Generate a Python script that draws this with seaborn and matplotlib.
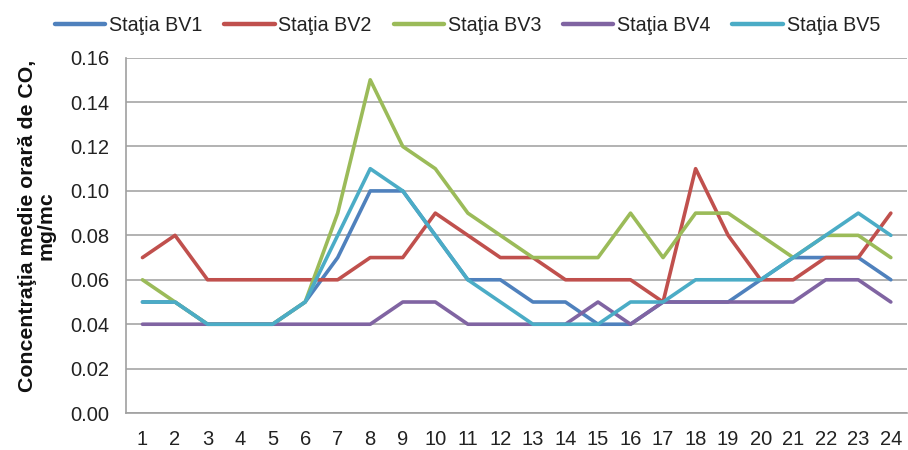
import pandas as pd
import matplotlib
matplotlib.use("Agg")
import matplotlib.pyplot as plt
import seaborn as sns
from matplotlib.ticker import FixedLocator, FormatStrFormatter

# hours of the day
hours = list(range(1, 25))

bv1 = [0.05, 0.05, 0.04, 0.04, 0.04, 0.05, 0.07, 0.10, 0.10, 0.08, 0.06, 0.06,
       0.05, 0.05, 0.04, 0.04, 0.05, 0.05, 0.05, 0.06, 0.07, 0.07, 0.07, 0.06]
bv2 = [0.07, 0.08, 0.06, 0.06, 0.06, 0.06, 0.06, 0.07, 0.07, 0.09, 0.08, 0.07,
       0.07, 0.06, 0.06, 0.06, 0.05, 0.11, 0.08, 0.06, 0.06, 0.07, 0.07, 0.09]
bv3 = [0.06, 0.05, 0.04, 0.04, 0.04, 0.05, 0.09, 0.15, 0.12, 0.11, 0.09, 0.08,
       0.07, 0.07, 0.07, 0.09, 0.07, 0.09, 0.09, 0.08, 0.07, 0.08, 0.08, 0.07]
bv4 = [0.04, 0.04, 0.04, 0.04, 0.04, 0.04, 0.04, 0.04, 0.05, 0.05, 0.04, 0.04,
       0.04, 0.04, 0.05, 0.04, 0.05, 0.05, 0.05, 0.05, 0.05, 0.06, 0.06, 0.05]
bv5 = [0.05, 0.05, 0.04, 0.04, 0.04, 0.05, 0.08, 0.11, 0.10, 0.08, 0.06, 0.05,
       0.04, 0.04, 0.04, 0.05, 0.05, 0.06, 0.06, 0.06, 0.07, 0.08, 0.09, 0.08]

station_names = ["Staţia BV1", "Staţia BV2", "Staţia BV3", "Staţia BV4", "Staţia BV5"]
station_colors = ["#4F81BD", "#C0504D", "#9BBB59", "#8064A2", "#4BACC6"]

# long-form table for seaborn
frames = []
for name, vals in zip(station_names, [bv1, bv2, bv3, bv4, bv5]):
    frames.append(pd.DataFrame({"ora": hours, "conc": vals, "statia": name}))
df = pd.concat(frames, ignore_index=True)

sns.set_style("white")
plt.rcParams['font.family'] = ['Liberation Sans', 'DejaVu Sans']

fig, ax = plt.subplots(figsize=(9.08, 4.5), dpi=100)
fig.subplots_adjust(left=0.139, right=0.999, top=0.872, bottom=0.082)

sns.lineplot(data=df, x="ora", y="conc", hue="statia", hue_order=station_names,
             palette=dict(zip(station_names, station_colors)), linewidth=2.6,
             ax=ax, legend=True)

ax.set_xlim(0.5, 24.5)
ax.set_ylim(0, 0.16)
ax.set_yticks([0.00, 0.02, 0.04, 0.06, 0.08, 0.10, 0.12, 0.14, 0.16])
ax.yaxis.set_major_formatter(FormatStrFormatter('%.2f'))
ax.set_xticks(hours)
ax.set_xticklabels([str(h) for h in hours])
ax.xaxis.set_minor_locator(FixedLocator([h + 0.5 for h in range(0, 25)]))
ax.tick_params(axis='x', which='major', length=0, pad=12, labelsize=14.5, colors='#222222')
ax.tick_params(axis='x', which='minor', length=5, width=1, color='#a0a0a0', direction='out')
ax.tick_params(axis='y', length=5, width=1, color='#a0a0a0', direction='out',
               labelsize=14.5, labelcolor='#222222', pad=7)

ax.grid(axis='y', color='#a6a6a6', linewidth=1.2)
ax.set_axisbelow(True)
for side in ['top', 'right']:
    ax.spines[side].set_visible(False)
for side in ['left', 'bottom']:
    ax.spines[side].set_color('#a0a0a0')
    ax.spines[side].set_linewidth(1.2)

ax.set_xlabel("")
ax.set_ylabel("Concentraţia medie orară de CO,\nmg/mc", fontsize=15.3,
              fontweight='bold', linespacing=1.0, color='#111111')
ax.yaxis.set_label_coords(-0.09, 0.527)

ax.legend(loc='center', bbox_to_anchor=(0.437, 1.09), ncol=5, frameon=False,
          fontsize=14.2, handlelength=2.55, handletextpad=0.2, columnspacing=1.1)
for line in ax.get_legend().get_lines():
    line.set_linewidth(3.2)
for t in ax.get_legend().get_texts():
    t.set_color('#222222')

fig.savefig("out.png", dpi=100)
